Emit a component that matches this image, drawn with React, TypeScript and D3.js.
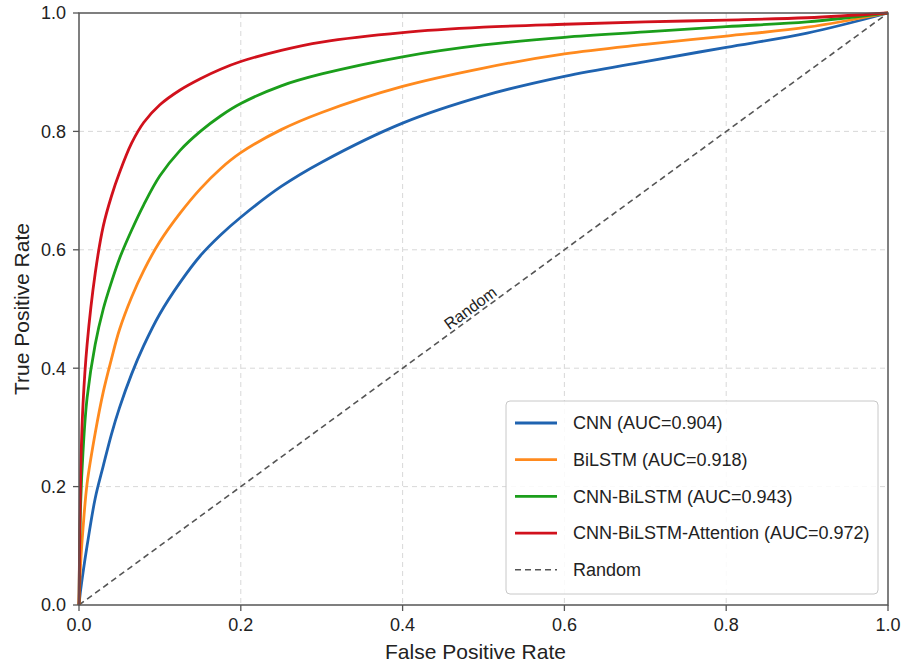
import React from "react";
import * as d3 from "d3";

const width = 903;
const height = 666;
const margin = { top: 13, right: 15, bottom: 61, left: 79 };
const innerWidth = width - margin.left - margin.right;
const innerHeight = height - margin.top - margin.bottom;

// false positive rates at which the curves were read
const fprGrid = [0, 0.002, 0.005, 0.01, 0.02, 0.03, 0.04, 0.05, 0.065, 0.08, 0.1, 0.125, 0.15, 0.175, 0.2, 0.25, 0.3, 0.4, 0.5, 0.6, 0.7, 0.8, 0.9, 1.0];
const cnnTpr = [0, 0.025, 0.055, 0.1, 0.18, 0.235, 0.288, 0.333, 0.39, 0.438, 0.492, 0.545, 0.59, 0.625, 0.655, 0.707, 0.748, 0.814, 0.86, 0.893, 0.918, 0.942, 0.966, 1];
const bilstmTpr = [0, 0.07, 0.13, 0.205, 0.29, 0.36, 0.415, 0.465, 0.52, 0.565, 0.614, 0.662, 0.703, 0.737, 0.764, 0.803, 0.832, 0.876, 0.907, 0.931, 0.947, 0.961, 0.976, 1];
const cnnBilstmTpr = [0, 0.17, 0.26, 0.35, 0.44, 0.5, 0.545, 0.585, 0.633, 0.676, 0.725, 0.768, 0.8, 0.826, 0.847, 0.877, 0.897, 0.926, 0.946, 0.959, 0.968, 0.977, 0.985, 1];
const attentionTpr = [0, 0.22, 0.34, 0.44, 0.56, 0.64, 0.69, 0.73, 0.78, 0.815, 0.845, 0.87, 0.889, 0.905, 0.918, 0.937, 0.951, 0.967, 0.976, 0.981, 0.985, 0.988, 0.992, 1];

const modelNames = ["CNN (AUC=0.904)", "BiLSTM (AUC=0.918)", "CNN-BiLSTM (AUC=0.943)", "CNN-BiLSTM-Attention (AUC=0.972)"];
const modelColors = ["#1f63b0", "#ff8a1e", "#1b9e1b", "#d1111c"];
const seriesTpr = [cnnTpr, bilstmTpr, cnnBilstmTpr, attentionTpr];

const tickValues = [0, 0.2, 0.4, 0.6, 0.8, 1.0];
const randomLine = [0, 1];

const font = "'Liberation Sans', Arial, sans-serif";

const App = () => {
    const xScale = d3.scaleLinear().domain([0, 1]).range([0, innerWidth]);
    const yScale = d3.scaleLinear().domain([0, 1]).range([innerHeight, 0]);

    const line = d3
        .line<[number, number]>()
        .x((d) => xScale(d[0]))
        .y((d) => yScale(d[1]))
        .curve(d3.curveCatmullRom.alpha(0.5));

    const straight = d3
        .line<[number, number]>()
        .x((d) => xScale(d[0]))
        .y((d) => yScale(d[1]));

    const angle =
        (Math.atan2(yScale(1) - yScale(0), xScale(1) - xScale(0)) * 180) / Math.PI;

    const legend = { x: 427, y: 388, w: 372, h: 193, row: 36.7 };

    return (
        <svg
            width={width}
            height={height}
            style={{ position: "absolute", left: 0, top: 0, background: "#fff" }}
            fontFamily={font}
        >
            <g transform={`translate(${margin.left},${margin.top})`}>
                {/* grid */}
                {tickValues.slice(1, -1).map((t, i) => (
                    <g key={i}>
                        <line
                            x1={xScale(t)}
                            x2={xScale(t)}
                            y1={0}
                            y2={innerHeight}
                            stroke="#d4d4d4"
                            strokeWidth={0.9}
                            strokeDasharray="5,4"
                        />
                        <line
                            x1={0}
                            x2={innerWidth}
                            y1={yScale(t)}
                            y2={yScale(t)}
                            stroke="#d4d4d4"
                            strokeWidth={0.9}
                            strokeDasharray="5,4"
                        />
                    </g>
                ))}

                {/* random diagonal */}
                <path
                    d={straight(randomLine.map((v) => [v, v]) as [number, number][]) || ""}
                    fill="none"
                    stroke="#555"
                    strokeWidth={1.6}
                    strokeDasharray="6,4"
                />
                <text
                    transform={`translate(${xScale(0.49)},${yScale(0.49)}) rotate(${angle})`}
                    dy={-3}
                    textAnchor="middle"
                    fontSize={16}
                    fill="#222"
                >
                    Random
                </text>

                {/* ROC curves */}
                {seriesTpr.map((tpr, i) => (
                    <path
                        key={i}
                        d={line(fprGrid.map((f, j) => [f, tpr[j]]) as [number, number][]) || ""}
                        fill="none"
                        stroke={modelColors[i]}
                        strokeWidth={2.8}
                        strokeLinejoin="round"
                    />
                ))}

                {/* spines */}
                <rect
                    x={0}
                    y={0}
                    width={innerWidth}
                    height={innerHeight}
                    fill="none"
                    stroke="#555"
                    strokeWidth={1.5}
                />

                {/* x ticks */}
                {tickValues.map((t, i) => (
                    <g key={i} transform={`translate(${xScale(t)},${innerHeight})`}>
                        <line y1={0} y2={6} stroke="#555" strokeWidth={1.3} />
                        <text y={26} textAnchor="middle" fontSize={18} fill="#222">
                            {t.toFixed(1)}
                        </text>
                    </g>
                ))}

                {/* y ticks */}
                {tickValues.map((t, i) => (
                    <g key={i} transform={`translate(0,${yScale(t)})`}>
                        <line x1={-6} x2={0} stroke="#555" strokeWidth={1.3} />
                        <text x={-13} dy="0.35em" textAnchor="end" fontSize={18} fill="#222">
                            {t.toFixed(1)}
                        </text>
                    </g>
                ))}

                {/* axis labels */}
                <text
                    x={innerWidth / 2 - 8}
                    y={innerHeight + 54}
                    textAnchor="middle"
                    fontSize={21}
                    fill="#222"
                >
                    False Positive Rate
                </text>
                <text
                    transform={`translate(${-50},${innerHeight / 2}) rotate(-90)`}
                    textAnchor="middle"
                    fontSize={21}
                    fill="#222"
                >
                    True Positive Rate
                </text>

                {/* legend */}
                <g transform={`translate(${legend.x},${legend.y})`}>
                    <rect
                        width={legend.w}
                        height={legend.h}
                        rx={4}
                        fill="#fff"
                        fillOpacity={0.85}
                        stroke="#c8c8c8"
                        strokeWidth={1}
                    />
                    {modelNames.map((name, i) => (
                        <g key={i} transform={`translate(0,${22 + i * legend.row})`}>
                            <line x1={9} x2={51} stroke={modelColors[i]} strokeWidth={2.8} />
                            <text x={67} dy="0.35em" fontSize={18} fill="#222">
                                {name}
                            </text>
                        </g>
                    ))}
                    <g transform={`translate(0,${22 + 4 * legend.row})`}>
                        <line x1={9} x2={51} stroke="#555" strokeWidth={1.6} strokeDasharray="6,4" />
                        <text x={67} dy="0.35em" fontSize={18} fill="#222">
                            Random
                        </text>
                    </g>
                </g>
            </g>
        </svg>
    );
};

export default App;
